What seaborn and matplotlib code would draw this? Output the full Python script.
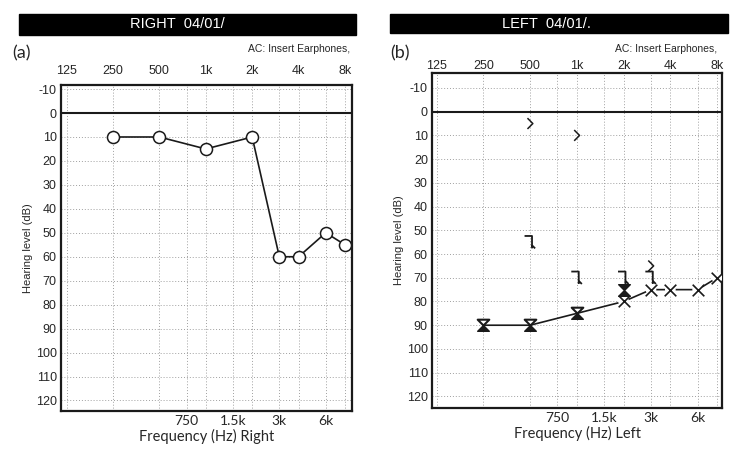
import numpy as np
import pandas as pd
import matplotlib
matplotlib.use('Agg')
import matplotlib.pyplot as plt
from matplotlib.path import Path
from matplotlib.patches import Rectangle
import seaborn as sns

sns.set_style('white')
plt.rcParams['font.family'] = ['Liberation Sans', 'DejaVu Sans']

# __ data __
top_freqs = [125, 250, 500, 1000, 2000, 4000, 8000]
top_labels = ['125', '250', '500', '1k', '2k', '4k', '8k']
bottom_freqs = [750, 1500, 3000, 6000]
bottom_labels = ['750', '1.5k', '3k', '6k']
db_ticks = [-10, 0, 10, 20, 30, 40, 50, 60, 70, 80, 90, 100, 110, 120]

# right ear, air conduction (O)
right_freq = [250, 500, 1000, 2000, 3000, 4000, 6000, 8000]
right_db = [10, 10, 15, 10, 60, 60, 50, 55]

# left ear, air conduction: masked (hourglass) then X
left_mask_freq = [250, 500, 1000]
left_mask_db = [90, 90, 85]
left_x_freq = [2000, 3000, 4000, 6000, 8000]
left_x_db = [80, 75, 75, 75, 70]
left_extra_freq = [2000]
left_extra_db = [75]
# left ear, bone conduction
left_bcm_freq = [500, 1000, 2000, 3000]
left_bcm_db = [55, 70, 70, 70]
left_bc_freq = [500, 1000, 3000]
left_bc_db = [5, 10, 65]

# __ marker shapes __
hg_top = Path([(-1, 1), (1, 1), (0, 0), (-1, 1)],
              [Path.MOVETO, Path.LINETO, Path.LINETO, Path.CLOSEPOLY])
hg_bot = Path([(0, 0), (1, -1), (-1, -1), (0, 0)],
              [Path.MOVETO, Path.LINETO, Path.LINETO, Path.CLOSEPOLY])
chevron = Path([(-0.5, 1), (0.5, 0), (-0.5, -1)],
               [Path.MOVETO, Path.LINETO, Path.LINETO])
bracket = Path([(-0.9, 1), (0.3, 1), (0.3, -0.5), (0.8, -1), (0.3, -0.5), (0.3, -1)],
               [Path.MOVETO, Path.LINETO, Path.LINETO, Path.LINETO, Path.MOVETO, Path.LINETO])

INK = '#1a1a1a'
fig = plt.figure(figsize=(7.5, 4.51), dpi=100)
ax_r = fig.add_axes([0.0813, 0.0887, 0.388, 0.7228])
ax_l = fig.add_axes([0.576, 0.0953, 0.3867, 0.7428])


def audiogram(ax, xlim, ylim, side, toppad):
    ax.set_xscale('log')
    ax.set_xlim(*xlim)
    ax.set_ylim(*ylim)
    all_f = sorted(top_freqs + bottom_freqs)
    ax.set_xticks(all_f)
    ax.set_xticks([], minor=True)
    ax.set_xticklabels([bottom_labels[bottom_freqs.index(f)] if f in bottom_freqs else ''
                        for f in all_f], fontfamily='Lato', fontsize=10)
    ax.set_yticks(db_ticks)
    ax.set_yticklabels([str(d) for d in db_ticks], fontsize=9)
    ax.tick_params(length=0, pad=3)
    ax.tick_params(axis='x', pad=3)
    ax.grid(True, color='#a0a0a0', linestyle=(0, (1, 2)), linewidth=0.7)
    ax.axhline(0, color=INK, lw=1.5, zorder=1)
    for s in ax.spines.values():
        s.set_color(INK)
        s.set_linewidth(1.6)
    sec = ax.secondary_xaxis('top')
    sec.set_xticks(top_freqs)
    sec.set_xticks([], minor=True)
    sec.set_xticklabels(top_labels, fontsize=9)
    sec.tick_params(length=0, pad=toppad)
    sec.spines['top'].set_visible(False)
    ax.set_xlabel('Frequency (Hz) ' + side, fontfamily='Lato', fontsize=10.5, labelpad=1)
    ax.set_ylabel('Hearing level (dB)', fontsize=8, labelpad=2)


audiogram(ax_r, (115, 8880), (124.4, -11.7), 'Right', 6)
audiogram(ax_l, (116.6, 8610), (124.9, -16.3), 'Left', 0.5)

# right ear
sns.lineplot(x=right_freq, y=right_db, ax=ax_r, color=INK, lw=1.2,
             estimator=None, sort=False, zorder=3)
sns.scatterplot(x=right_freq, y=right_db, ax=ax_r, marker='o', s=75,
                facecolor='white', edgecolor=INK, linewidth=1.1, zorder=4)

# left ear air conduction
sns.lineplot(x=left_mask_freq + left_x_freq, y=left_mask_db + left_x_db, ax=ax_l,
             color=INK, lw=1.2, estimator=None, sort=False, zorder=3)
sns.scatterplot(x=left_x_freq, y=left_x_db, ax=ax_l, marker='o', s=60,
                facecolor='white', edgecolor='none', linewidth=0, zorder=4)
sns.scatterplot(x=left_x_freq, y=left_x_db, ax=ax_l, marker='x', s=70,
                color=INK, linewidth=1.2, zorder=5)
sns.scatterplot(x=left_mask_freq, y=left_mask_db, ax=ax_l, marker=hg_top, s=70,
                facecolor='white', edgecolor=INK, linewidth=1.5, zorder=5)
sns.scatterplot(x=left_mask_freq, y=left_mask_db, ax=ax_l, marker=hg_bot, s=70,
                facecolor=INK, edgecolor=INK, linewidth=1.0, zorder=5)
sns.scatterplot(x=left_extra_freq, y=left_extra_db, ax=ax_l, marker=hg_top, s=70,
                facecolor=INK, edgecolor=INK, linewidth=1.0, zorder=5)
sns.scatterplot(x=left_extra_freq, y=left_extra_db, ax=ax_l, marker=hg_bot, s=70,
                facecolor=INK, edgecolor=INK, linewidth=1.0, zorder=5)

# left ear bone conduction
sns.scatterplot(x=left_bcm_freq, y=left_bcm_db, ax=ax_l, marker=bracket, s=80,
                facecolor='none', edgecolor=INK, linewidth=1.3, zorder=5)
sns.scatterplot(x=left_bc_freq, y=left_bc_db, ax=ax_l, marker=chevron, s=60,
                facecolor='none', edgecolor=INK, linewidth=1.1, zorder=5)

# headers
fig.add_artist(Rectangle((0.0253, 0.9224), 0.4494, 0.0466, transform=fig.transFigure,
                         color='black', zorder=0))
fig.add_artist(Rectangle((0.52, 0.9268), 0.4507, 0.0422, transform=fig.transFigure,
                         color='black', zorder=0))
fig.text(0.236, 0.9457, 'RIGHT  04/01/', color='white', fontsize=10.5, ha='center', va='center')
fig.text(0.728, 0.9478, 'LEFT  04/01/.', color='white', fontsize=10.5, ha='center', va='center')
fig.text(0.016, 0.8825, '(a)', fontfamily='Lato', fontsize=13, ha='left', va='center')
fig.text(0.52, 0.8825, '(b)', fontfamily='Lato', fontsize=13, ha='left', va='center')
fig.text(0.4667, 0.891, 'AC: Insert Earphones,', fontsize=7.5, ha='right', va='center')
fig.text(0.956, 0.891, 'AC: Insert Earphones,', fontsize=7.5, ha='right', va='center')

fig.savefig('out.png', dpi=100)
